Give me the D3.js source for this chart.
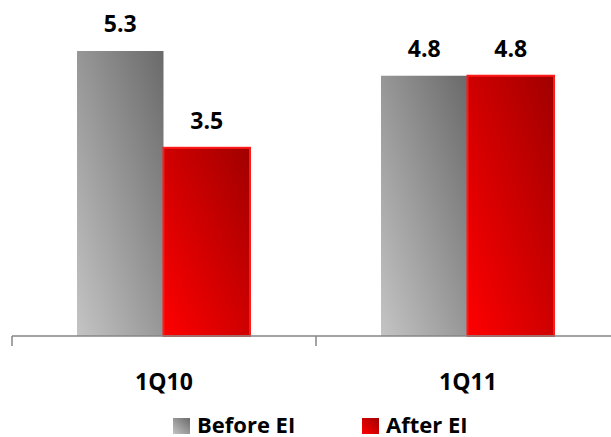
<!DOCTYPE html>
<html>
<head>
<meta charset="utf-8">
<script src="https://cdn.jsdelivr.net/npm/d3@7/dist/d3.min.js"></script>
<style>
html,body{margin:0;padding:0;background:#fff;}
svg{display:block;}
text{font-family:"Open Sans",Lato,sans-serif;font-weight:bold;fill:#000;}
</style>
</head>
<body>
<svg id="chart" width="611" height="437"></svg>
<script>
const categories = ["1Q10", "1Q11"];
const seriesNames = ["Before EI", "After EI"];
const beforeEI = [5.3, 4.84];
const afterEI = [3.5, 4.84];
const valueLabels = [["5.3", "3.5"], ["4.8", "4.8"]];

const svg = d3.select("#chart");
const W = 611, H = 437;
const baseY = 336;

const defs = svg.append("defs");
const gGray = defs.append("linearGradient").attr("id", "gradGray")
  .attr("x1", 0).attr("y1", 1).attr("x2", 1).attr("y2", 0);
gGray.append("stop").attr("offset", "0%").attr("stop-color", "#c4c4c4");
gGray.append("stop").attr("offset", "100%").attr("stop-color", "#6a6a6a");
const gRed = defs.append("linearGradient").attr("id", "gradRed")
  .attr("x1", 0).attr("y1", 1).attr("x2", 1).attr("y2", 0);
gRed.append("stop").attr("offset", "0%").attr("stop-color", "#ff0000");
gRed.append("stop").attr("offset", "100%").attr("stop-color", "#a00000");
const fills = ["url(#gradGray)", "url(#gradRed)"];

const x0 = d3.scaleBand().domain(categories).range([12, 620]).paddingInner(0).paddingOuter(0);
const x1 = d3.scaleBand().domain(seriesNames).range([65, 238]).padding(0);
const y = d3.scaleLinear().domain([0, 5.3]).range([baseY, 51]);

const data = categories.map((c, i) => ({
  cat: c,
  vals: [
    {s: seriesNames[0], v: beforeEI[i], label: valueLabels[i][0], k: 0},
    {s: seriesNames[1], v: afterEI[i], label: valueLabels[i][1], k: 1}
  ]
}));

const groups = svg.selectAll("g.cat").data(data).enter().append("g")
  .attr("class", "cat")
  .attr("transform", d => `translate(${x0(d.cat)},0)`);

groups.selectAll("rect").data(d => d.vals).enter().append("rect")
  .attr("x", d => x1(d.s))
  .attr("y", d => y(d.v))
  .attr("width", x1.bandwidth())
  .attr("height", d => baseY - y(d.v))
  .attr("fill", d => fills[d.k])
  .attr("stroke", d => d.k === 1 ? "#ff1a1a" : "none")
  .attr("stroke-width", d => d.k === 1 ? 2 : 0);

groups.selectAll("text.val").data(d => d.vals).enter().append("text")
  .attr("class", "val")
  .attr("x", d => x1(d.s) + x1.bandwidth() / 2)
  .attr("y", d => y(d.v) - 19)
  .attr("text-anchor", "middle")
  .attr("font-size", 23)
  .text(d => d.label);

// axis
const axis = svg.append("g");
axis.append("line").attr("x1", 12).attr("x2", W).attr("y1", baseY).attr("y2", baseY)
  .attr("stroke", "#868686").attr("stroke-width", 1.5);
const tickXs = categories.map(c => x0(c)).concat([x0.range()[1]]);
axis.selectAll("line.tick").data(tickXs).enter().append("line")
  .attr("class", "tick")
  .attr("x1", d => d).attr("x2", d => d)
  .attr("y1", baseY).attr("y2", baseY + 10)
  .attr("stroke", "#868686").attr("stroke-width", 1.5);

svg.selectAll("text.cat").data(categories).enter().append("text")
  .attr("class", "cat")
  .attr("x", d => x0(d) + x0.bandwidth() / 2)
  .attr("y", 390)
  .attr("text-anchor", "middle")
  .attr("font-size", 23)
  .text(d => d);

// legend
const legendX = [173, 362];
const leg = svg.selectAll("g.leg").data(seriesNames).enter().append("g")
  .attr("class", "leg")
  .attr("transform", (d, i) => `translate(${legendX[i]},0)`);
leg.append("rect").attr("x", 0).attr("y", 418).attr("width", 17).attr("height", 16)
  .attr("fill", (d, i) => fills[i]);
leg.append("text").attr("x", 24).attr("y", 433).attr("font-size", 22).text(d => d);
</script>
</body>
</html>
